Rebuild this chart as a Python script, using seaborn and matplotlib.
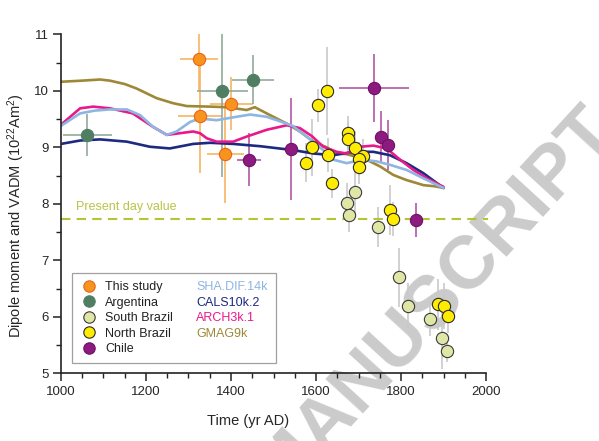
import numpy as np
import matplotlib
matplotlib.use('Agg')
import matplotlib.pyplot as plt
from matplotlib.lines import Line2D
from matplotlib.ticker import MultipleLocator
import seaborn as sns

sns.set_style('ticks')
plt.rcParams['font.family'] = ['Liberation Sans', 'DejaVu Sans']
plt.rcParams['mathtext.default'] = 'regular'

# --- Data ---
# field models
sha_x = [1000, 1045, 1080, 1115, 1155, 1186, 1217, 1249, 1272, 1304, 1327, 1366, 1405, 1445,
         1484, 1515, 1545, 1562, 1590, 1617, 1641, 1672, 1711, 1743, 1774, 1813, 1853, 1900]
sha_y = [9.38, 9.60, 9.65, 9.67, 9.67, 9.57, 9.36, 9.22, 9.28, 9.45, 9.51, 9.48, 9.53, 9.58,
         9.54, 9.46, 9.38, 9.28, 9.12, 8.95, 8.78, 8.72, 8.78, 8.75, 8.69, 8.60, 8.45, 8.28]

arch_x = [1000, 1045, 1076, 1115, 1169, 1217, 1249, 1280, 1311, 1327, 1343, 1366, 1405, 1437,
          1484, 1531, 1562, 1590, 1617, 1649, 1672, 1704, 1735, 1766, 1798, 1829, 1861, 1900]
arch_y = [9.40, 9.69, 9.72, 9.69, 9.60, 9.36, 9.22, 9.25, 9.28, 9.25, 9.16, 9.10, 9.10, 9.19,
          9.31, 9.39, 9.34, 9.20, 9.01, 8.92, 8.89, 9.01, 9.03, 8.98, 8.78, 8.60, 8.45, 8.30]

cals_x = [1000, 1045, 1092, 1155, 1209, 1256, 1311, 1351, 1405, 1468, 1547, 1594, 1641, 1688,
          1735, 1774, 1813, 1853, 1900]
cals_y = [9.06, 9.12, 9.14, 9.10, 9.01, 8.98, 9.06, 9.08, 9.06, 9.02, 8.95, 8.89, 8.86, 8.92,
          8.92, 8.86, 8.72, 8.54, 8.28]

gmag_x = [1000, 1050, 1092, 1115, 1150, 1178, 1225, 1264, 1296, 1351, 1390, 1437, 1456, 1484,
          1531, 1562, 1594, 1625, 1649, 1672, 1700, 1719, 1751, 1782, 1813, 1853, 1880, 1900]
gmag_y = [10.16, 10.18, 10.20, 10.18, 10.12, 10.04, 9.87, 9.78, 9.73, 9.72, 9.71, 9.66, 9.71, 9.60,
          9.42, 9.28, 9.10, 9.00, 8.89, 8.88, 8.82, 8.78, 8.66, 8.51, 8.42, 8.33, 8.31, 8.28]

# data sets
study_x = [1325, 1327, 1401, 1387]
study_y = [10.56, 9.55, 9.77, 8.88]
study_xerr = [44, 51, 50, 44]
study_yerr = [0.55, 1.0, 0.47, 0.86]

arg_x = [1062, 1380, 1451]
arg_y = [9.22, 10.0, 10.20]
arg_xerr = [57, 59, 49]
arg_yerr = [0.37, 1.52, 0.43]

chile_x = [1442, 1541, 1736, 1752, 1770, 1835]
chile_y = [8.78, 8.97, 10.05, 9.19, 9.04, 7.71]
chile_xerr = [29, 0, 82, 0, 0, 0]
chile_yerr = [0.47, 0.9, 0.6, 0.45, 0.45, 0.3]

sbr_x = [1692, 1672, 1678, 1747, 1795, 1817, 1869, 1897, 1909]
sbr_y = [8.21, 8.02, 7.80, 7.59, 6.70, 6.20, 5.96, 5.62, 5.40]
sbr_xerr = [0, 0, 0, 0, 0, 0, 0, 0, 0]
sbr_yerr = [0.4, 0.35, 0.3, 0.35, 0.52, 0.4, 0.3, 0.55, 0.2]

nbr_x = [1627, 1605, 1591, 1577, 1629, 1638, 1676, 1676, 1692, 1710, 1700, 1700,
         1773, 1780, 1886, 1900, 1911]
nbr_y = [9.99, 9.74, 9.00, 8.73, 8.86, 8.36, 9.26, 9.14, 8.98, 8.85, 8.80, 8.65,
         7.89, 7.73, 6.22, 6.19, 6.01]
nbr_xerr = [12, 8, 0, 0, 0, 0, 0, 15, 10, 0, 0, 0, 0, 0, 0, 0, 0]
nbr_yerr = [0.78, 0.3, 0.5, 0.35, 0.3, 0.25, 0.3, 0.3, 0.3, 0.3, 0.3, 0.3,
            0.45, 0.3, 0.45, 0.4, 0.3]

present_day = 7.73

# --- Plot ---
fig, ax = plt.subplots(figsize=(5.99, 4.41), dpi=100)
fig.subplots_adjust(left=0.1018, right=0.8114, bottom=0.1535, top=0.9222)
ax.patch.set_visible(False)

# watermark
fig.text(0.724, 0.316, 'MANUSCRIPT', rotation=47.5, rotation_mode='anchor',
         fontsize=54, fontweight='bold', color='#cbcbcb',
         ha='center', va='center', zorder=-1)

# error bars
groups = [
    (study_x, study_y, study_xerr, study_yerr, '#f6b562'),
    (arg_x, arg_y, arg_xerr, arg_yerr, '#93aa9c'),
    (chile_x, chile_y, chile_xerr, chile_yerr, '#b457a6'),
    (sbr_x, sbr_y, sbr_xerr, sbr_yerr, '#c9c9c9'),
    (nbr_x, nbr_y, nbr_xerr, nbr_yerr, '#c9c9c9'),
]
for gx, gy, gxe, gye, ec in groups:
    ax.errorbar(gx, gy, xerr=gxe, yerr=gye, fmt='none', ecolor=ec,
                elinewidth=1.2, capsize=0, zorder=1)

# models
models = [
    (gmag_x, gmag_y, '#9e8838', 'GMAG9k'),
    (cals_x, cals_y, '#1d2a82', 'CALS10k.2'),
    (arch_x, arch_y, '#e8198b', 'ARCH3k.1'),
    (sha_x, sha_y, '#8db6e2', 'SHA.DIF.14k'),
]
for mx, my, mc, ml in models:
    sns.lineplot(x=mx, y=my, color=mc, lw=1.9, ax=ax, zorder=2,
                 estimator=None, sort=True, legend=False)

# present day value
ax.hlines(present_day, 1000, 2005, colors='#b7c334', linestyles=(0, (4.5, 3)),
          lw=1.5, clip_on=False, zorder=1)
ax.text(1035, present_day + 0.1, 'Present day value', color='#b9c546',
        fontsize=9, ha='left', va='bottom')

# points: name -> (x, y, face, edge)
pts = {
    'This study': (study_x, study_y, '#f7941d', '#e8641e'),
    'Argentina': (arg_x, arg_y, '#4f7e63', '#4f7e63'),
    'Chile': (chile_x, chile_y, '#8c1a7f', '#6d1263'),
    'South Brazil': (sbr_x, sbr_y, '#dfe6a6', '#3a3a3a'),
    'North Brazil': (nbr_x, nbr_y, '#ffec00', '#2a2a2a'),
}
for name, (px, py, fc, ec) in pts.items():
    sns.scatterplot(x=px, y=py, color=fc, edgecolor=ec, linewidth=0.8,
                    s=78, ax=ax, zorder=3, legend=False)

ax.set_xlim(1000, 2000)
ax.set_ylim(5, 11)
ax.xaxis.set_major_locator(MultipleLocator(200))
ax.xaxis.set_minor_locator(MultipleLocator(50))
ax.yaxis.set_major_locator(MultipleLocator(1))
ax.yaxis.set_minor_locator(MultipleLocator(0.5))
ax.tick_params(which='major', length=6, width=1.1, labelsize=9.5, pad=3, color='#222222')
ax.tick_params(which='minor', length=3.5, width=1.0, color='#222222')
sns.despine(ax=ax)
for s in ['left', 'bottom']:
    ax.spines[s].set_linewidth(1.2)
    ax.spines[s].set_color('#222222')

ax.set_xlabel('Time (yr AD)', fontsize=10.5)
ax.set_ylabel('Dipole moment and VADM (10$^{22}$Am$^{2}$)', fontsize=10.5)
ax.xaxis.set_label_coords(0.44, -0.12)
ax.yaxis.set_label_coords(-0.08, 0.465)

# legend
handles = []
for name in ['This study', 'Argentina', 'South Brazil', 'North Brazil', 'Chile']:
    px, py, fc, ec = pts[name]
    handles.append(Line2D([], [], ls='', marker='o', markersize=8.2,
                          markerfacecolor=fc, markeredgecolor=ec, markeredgewidth=0.8,
                          label=name))
legend_models = [('SHA.DIF.14k', '#8db6e2'), ('CALS10k.2', '#1d2a82'),
                 ('ARCH3k.1', '#e8198b'), ('GMAG9k', '#9e8838')]
for name, c in legend_models:
    handles.append(Line2D([], [], ls='', label=name))
leg = ax.legend(handles=handles, ncol=2, loc='lower left', bbox_to_anchor=(0.026, 0.03),
                borderaxespad=0, fontsize=9, handlelength=1.4, handletextpad=0.65,
                columnspacing=-0.2, labelspacing=0.29, borderpad=0.62,
                fancybox=False, framealpha=1, edgecolor='#a0a0a0')
leg.get_frame().set_linewidth(0.9)
texts = leg.get_texts()
for t, (name, c) in zip(texts[5:], legend_models):
    t.set_color(c)
for t in texts[:5]:
    t.set_color('#222222')

fig.savefig('out.png', dpi=100)
